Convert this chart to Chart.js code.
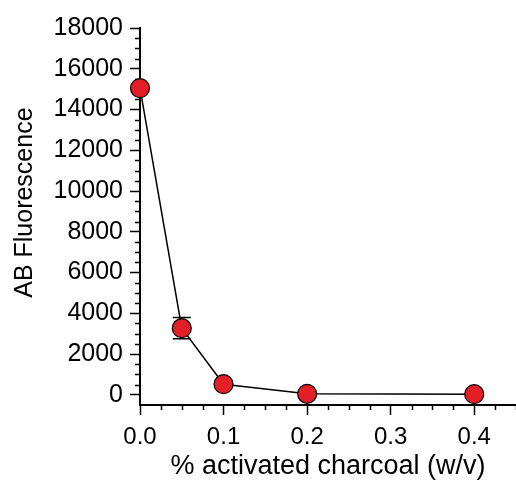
<!DOCTYPE html>
<html>
<head>
<meta charset="utf-8">
<script src="https://cdn.jsdelivr.net/npm/chart.js@4/dist/chart.umd.min.js"></script>
<style>
  html, body { margin: 0; padding: 0; background: #fff; overflow: hidden; }
  #wrap { width: 516px; height: 487px; position: relative; }
</style>
</head>
<body>
<div id="wrap"><canvas id="chart"></canvas></div>
<script>
// charcoal concentration (% w/v) and AB fluorescence
const charcoal = [0, 0.05, 0.1, 0.2, 0.4];
const fluorescence = [15050, 3270, 520, 50, 30];
const fluorErr = [0, 520, 0, 0, 0];

const xTicks = [0, 0.1, 0.2, 0.3, 0.4];
const xMinor = [0.025, 0.05, 0.075, 0.125, 0.15, 0.175, 0.225, 0.25, 0.275, 0.325, 0.35, 0.375, 0.425, 0.45];
const yTicks = [0, 2000, 4000, 6000, 8000, 10000, 12000, 14000, 16000, 18000];

// minor ticks on both axes + error bars, drawn under the points
const extras = {
    id: 'extras',
    beforeDatasetsDraw(chart) {
        const ctx = chart.ctx;
        const xs = chart.scales.x, ys = chart.scales.y;
        const area = chart.chartArea;
        ctx.save();
        ctx.strokeStyle = '#000';
        ctx.lineWidth = 1.5;
        ctx.beginPath();
        for (let v = 500; v < 18000; v += 500) {
            if (v % 2000 === 0) continue;
            const py = Math.round(ys.getPixelForValue(v)) + 0.5;
            ctx.moveTo(area.left, py); ctx.lineTo(area.left - 5, py);
        }
        xMinor.forEach(v => {
            const px = Math.round(xs.getPixelForValue(v)) + 0.5;
            ctx.moveTo(px, area.bottom); ctx.lineTo(px, area.bottom + 5);
        });
        ctx.stroke();

        for (let i = 0; i < charcoal.length; i++) {
            if (!fluorErr[i]) continue;
            const px = xs.getPixelForValue(charcoal[i]);
            const top = ys.getPixelForValue(fluorescence[i] + fluorErr[i]);
            const bot = ys.getPixelForValue(fluorescence[i] - fluorErr[i]);
            ctx.beginPath();
            ctx.moveTo(px, top); ctx.lineTo(px, bot);
            ctx.moveTo(px - 9, top); ctx.lineTo(px + 9, top);
            ctx.moveTo(px - 9, bot); ctx.lineTo(px + 9, bot);
            ctx.stroke();
        }
        ctx.restore();
    }
};

const family = '"Liberation Sans", Arial, sans-serif';

new Chart(document.getElementById('chart'), {
    type: 'scatter',
    data: {
        datasets: [{
            data: charcoal.map((x, i) => ({ x: x, y: fluorescence[i] })),
            showLine: true,
            clip: false,
            borderColor: '#000',
            borderWidth: 1.5,
            pointRadius: 9.5,
            pointHoverRadius: 9.5,
            pointBackgroundColor: '#e41e26',
            pointBorderColor: '#000',
            pointBorderWidth: 1.2
        }]
    },
    options: {
        responsive: true,
        maintainAspectRatio: false,
        animation: false,
        layout: { autoPadding: false, padding: { top: 28, left: 0, right: 0, bottom: 0 } },
        plugins: { legend: { display: false }, tooltip: { enabled: false } },
        scales: {
            x: {
                type: 'linear',
                min: 0,
                max: 0.45,
                afterBuildTicks: axis => { axis.ticks = xTicks.map(v => ({ value: v })); },
                afterFit: axis => { axis.height = 82; axis.paddingLeft = 0; axis.paddingRight = 0; },
                grid: { drawOnChartArea: false, drawTicks: true, tickLength: 10, color: '#000', tickWidth: 1.5 },
                border: { color: '#000', width: 2 },
                ticks: { color: '#000', font: { family: family, size: 24 }, padding: 8, maxRotation: 0, callback: v => v.toFixed(1) },
                title: { display: true, text: '% activated charcoal (w/v)', color: '#000', font: { family: family, size: 27 }, padding: { top: 6 } }
            },
            y: {
                min: -500,
                max: 18000,
                afterBuildTicks: axis => { axis.ticks = yTicks.map(v => ({ value: v })); },
                afterFit: axis => { axis.width = 140; axis.paddingTop = 0; axis.paddingBottom = 0; },
                grid: { drawOnChartArea: false, drawTicks: true, tickLength: 10, color: '#000', tickWidth: 1.5 },
                border: { color: '#000', width: 2 },
                ticks: { color: '#000', font: { family: family, size: 25 }, padding: 7, callback: v => String(v) },
                title: { display: true, text: '    AB Fluorescence', color: '#000', font: { family: family, size: 25 }, padding: { top: 10, bottom: 4 } }
            }
        }
    },
    plugins: [extras]
});
</script>
</body>
</html>
